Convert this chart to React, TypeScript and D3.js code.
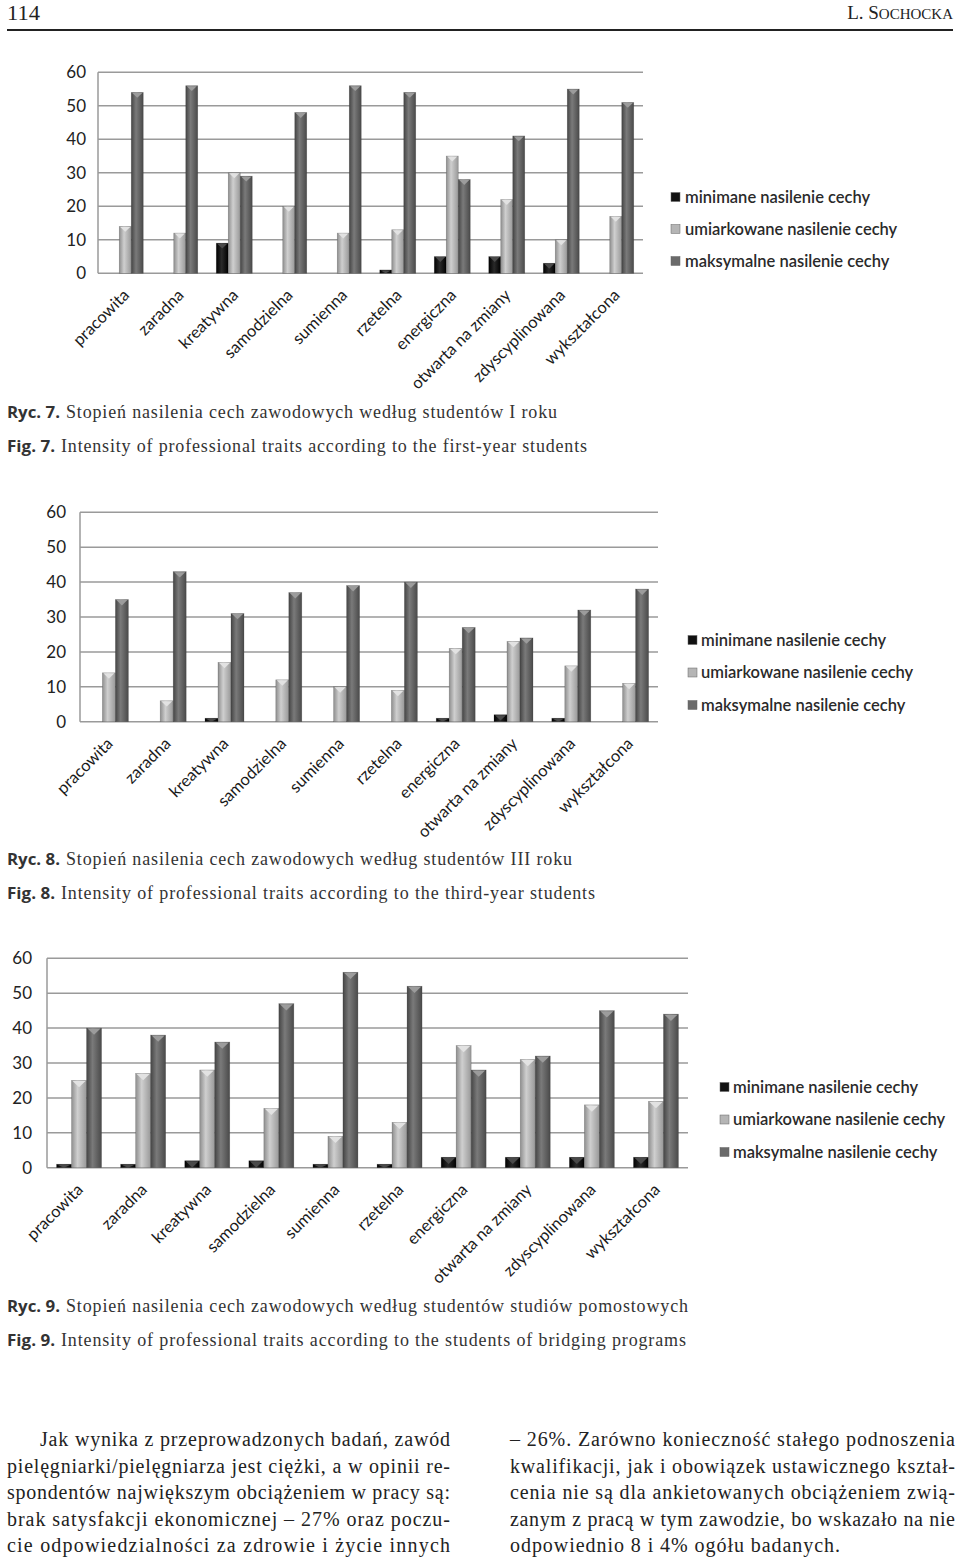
import React from "react";
import * as d3 from "d3";

const categories = [
  "pracowita",
  "zaradna",
  "kreatywna",
  "samodzielna",
  "sumienna",
  "rzetelna",
  "energiczna",
  "otwarta na zmiany",
  "zdyscyplinowana",
  "wykształcona",
];
const seriesNames = [
  "minimane nasilenie cechy",
  "umiarkowane nasilenie cechy",
  "maksymalne nasilenie cechy",
];
const yTicks = [0, 10, 20, 30, 40, 50, 60];

// Ryc. 7 – first-year students
const c1Min = [0, 0, 9, 0, 0, 1, 5, 5, 3, 0];
const c1Mod = [14, 12, 30, 20, 12, 13, 35, 22, 10, 17];
const c1Max = [54, 56, 29, 48, 56, 54, 28, 41, 55, 51];
// Ryc. 8 – third-year students
const c2Min = [0, 0, 1, 0, 0, 0, 1, 2, 1, 0];
const c2Mod = [14, 6, 17, 12, 10, 9, 21, 23, 16, 11];
const c2Max = [35, 43, 31, 37, 39, 40, 27, 24, 32, 38];
// Ryc. 9 – bridging programs
const c3Min = [1, 1, 2, 2, 1, 1, 3, 3, 3, 3];
const c3Mod = [25, 27, 28, 17, 9, 13, 35, 31, 18, 19];
const c3Max = [40, 38, 36, 47, 56, 52, 28, 32, 45, 44];

const captions = [
  { ryc: "Ryc. 7.", pl: "Stopień nasilenia cech zawodowych według studentów I roku", fig: "Fig. 7.", en: "Intensity of professional traits according to the first-year students" },
  { ryc: "Ryc. 8.", pl: "Stopień nasilenia cech zawodowych według studentów III roku", fig: "Fig. 8.", en: "Intensity of professional traits according to the third-year students" },
  { ryc: "Ryc. 9.", pl: "Stopień nasilenia cech zawodowych według studentów studiów pomostowych", fig: "Fig. 9.", en: "Intensity of professional traits according to the students of bridging programs" },
];

const leftLines = [
  "Jak wynika z przeprowadzonych badań, zawód",
  "pielęgniarki/pielęgniarza jest ciężki, a w opinii re-",
  "spondentów największym obciążeniem w pracy są:",
  "brak satysfakcji ekonomicznej – 27% oraz poczu-",
  "cie odpowiedzialności za zdrowie i życie innych",
];
const rightLines = [
  "– 26%. Zarówno konieczność stałego podnoszenia",
  "kwalifikacji, jak i obowiązek ustawicznego kształ-",
  "cenia nie są dla ankietowanych obciążeniem zwią-",
  "zanym z pracą w tym zawodzie, bo wskazało na nie",
  "odpowiednio 8 i 4% ogółu badanych.",
];

type Geo = {
  left: number; right: number; top: number; bottom: number; barW: number;
  tickX: number; legSqX: number; legTextX: number; legY: number; legGap: number;
};

const SANS = "Lato, 'Open Sans', sans-serif";
const SERIF = "'Liberation Serif', 'DejaVu Serif', serif";
const fills = ["url(#gMin)", "url(#gMod)", "url(#gMax)"];
const caps = ["#4a4a4a", "#e2e2e2", "#9c9c9c"];
const legendFills = ["#111", "#b5b5b5", "#6a6a6a"];

function Chart({ series, geo }: { series: number[][]; geo: Geo }) {
  const x0 = d3.scaleBand<string>().domain(categories).range([geo.left, geo.right]);
  const x1 = d3.scaleBand<number>().domain([0, 1, 2]).range([0, geo.barW * 3]);
  const y = d3.scaleLinear().domain([0, 60]).range([geo.bottom, geo.top]);
  const bw = x0.bandwidth();
  return (
    <g>
      {yTicks.map((t) => (
        <g key={t}>
          <line x1={geo.left} x2={geo.right} y1={y(t)} y2={y(t)} stroke="#9a9a9a" strokeWidth={1.5} />
          <text x={geo.tickX} y={y(t)} dy="0.35em" textAnchor="end" fontFamily={SANS} fontSize={17} fill="#222">
            {t}
          </text>
        </g>
      ))}
      <line x1={geo.left} x2={geo.left} y1={y(60)} y2={y(0)} stroke="#9a9a9a" strokeWidth={1.5} />
      {categories.map((c, i) => {
        const gx = (x0(c) as number) + bw / 2 - geo.barW * 1.5;
        return (
          <g key={c}>
            {series.map((s, k) => {
              const v = s[i];
              if (!v) return null;
              const bx = gx + (x1(k) as number);
              const by = y(v);
              const h = y(0) - by;
              const capH = Math.min(h, geo.barW * 0.45);
              return (
                <g key={k}>
                  <rect x={bx} y={by} width={geo.barW} height={h} fill={fills[k]} stroke="#333" strokeOpacity={0.35} strokeWidth={0.6} />
                  <polygon
                    points={`${bx + 1},${by + 0.5} ${bx + geo.barW - 1},${by + 0.5} ${bx + geo.barW / 2},${by + capH}`}
                    fill={caps[k]}
                  />
                </g>
              );
            })}
            <text
              transform={`translate(${(x0(c) as number) + bw / 2 + 5},${geo.bottom + 23}) rotate(-45)`}
              textAnchor="end"
              fontFamily={SANS}
              fontSize={16.5}
              fill="#1a1a1a"
            >
              {c}
            </text>
          </g>
        );
      })}
      {seriesNames.map((n, k) => (
        <g key={n}>
          <rect x={geo.legSqX} y={geo.legY + k * geo.legGap - 4.5} width={9} height={9} fill={legendFills[k]} stroke="#666" strokeWidth={0.5} />
          <text x={geo.legTextX} y={geo.legY + k * geo.legGap} dy="0.35em" fontFamily={SANS} fontSize={16.5} fontWeight={600} fill="#2a2a2a">
            {n}
          </text>
        </g>
      ))}
    </g>
  );
}

const geos: Geo[] = [
  { left: 98, right: 643, top: 72.3, bottom: 273.3, barW: 12, tickX: 86, legSqX: 671, legTextX: 685, legY: 197, legGap: 32 },
  { left: 80, right: 658, top: 512.3, bottom: 721.7, barW: 13, tickX: 66, legSqX: 688, legTextX: 701, legY: 640, legGap: 32.5 },
  { left: 47, right: 688, top: 958.3, bottom: 1167.7, barW: 15, tickX: 32, legSqX: 720, legTextX: 733, legY: 1087, legGap: 32.5 },
];
const captionY = [418, 865, 1312];
const captionPlW = [491, 506, 622];
const captionEnW = [526, 534, 625];

export default function App() {
  const lineYs = [1446, 1472.5, 1499, 1525.5, 1552];
  return (
    <svg width={960} height={1560} style={{ position: "absolute", left: 0, top: 0, display: "block", background: "#fff" }}>
      <defs>
        <linearGradient id="gMin" x1="0" x2="1" y1="0" y2="0">
          <stop offset="0" stopColor="#000" />
          <stop offset="0.45" stopColor="#2a2a2a" />
          <stop offset="1" stopColor="#000" />
        </linearGradient>
        <linearGradient id="gMod" x1="0" x2="1" y1="0" y2="0">
          <stop offset="0" stopColor="#8e8e8e" />
          <stop offset="0.4" stopColor="#cfcfcf" />
          <stop offset="1" stopColor="#999" />
        </linearGradient>
        <linearGradient id="gMax" x1="0" x2="1" y1="0" y2="0">
          <stop offset="0" stopColor="#454545" />
          <stop offset="0.4" stopColor="#7a7a7a" />
          <stop offset="1" stopColor="#4a4a4a" />
        </linearGradient>
      </defs>
      <rect width={960} height={1560} fill="#fff" />
      {/* header */}
      <text x={7} y={20} fontFamily={SERIF} fontSize={22} fill="#222" textLength={33} lengthAdjust="spacingAndGlyphs">114</text>
      <text x={953} y={19} textAnchor="end" fontFamily={SERIF} fill="#222">
        <tspan fontSize={19}>L. S</tspan>
        <tspan fontSize={15}>OCHOCKA</tspan>
      </text>
      <line x1={7} x2={953} y1={30} y2={30} stroke="#222" strokeWidth={2.2} />

      <Chart series={[c1Min, c1Mod, c1Max]} geo={geos[0]} />
      <Chart series={[c2Min, c2Mod, c2Max]} geo={geos[1]} />
      <Chart series={[c3Min, c3Mod, c3Max]} geo={geos[2]} />

      {captions.map((c, i) => (
        <g key={c.ryc}>
          <text x={7} y={captionY[i]} fontFamily="'Open Sans', sans-serif" fontWeight={700} fontSize={16} fill="#333" textLength={53} lengthAdjust="spacingAndGlyphs">{c.ryc}</text>
          <text x={66} y={captionY[i]} fontFamily={SERIF} fontSize={18} fill="#333" textLength={captionPlW[i]} lengthAdjust="spacing">{c.pl}</text>
          <text x={7} y={captionY[i] + 34} fontFamily="'Open Sans', sans-serif" fontWeight={700} fontSize={16} fill="#333" textLength={48} lengthAdjust="spacingAndGlyphs">{c.fig}</text>
          <text x={61} y={captionY[i] + 34} fontFamily={SERIF} fontSize={18} fill="#333" textLength={captionEnW[i]} lengthAdjust="spacing">{c.en}</text>
        </g>
      ))}

      {leftLines.map((l, i) => (
        <text key={"l" + i} x={i === 0 ? 40 : 7} y={lineYs[i]} fontFamily={SERIF} fontSize={20} fill="#222"
          textLength={i === 0 ? 410 : 443} lengthAdjust="spacing">{l}</text>
      ))}
      {rightLines.map((l, i) => (
        <text key={"r" + i} x={510} y={lineYs[i]} fontFamily={SERIF} fontSize={20} fill="#222"
          textLength={i === 4 ? 330 : 445} lengthAdjust="spacing">{l}</text>
      ))}
    </svg>
  );
}
